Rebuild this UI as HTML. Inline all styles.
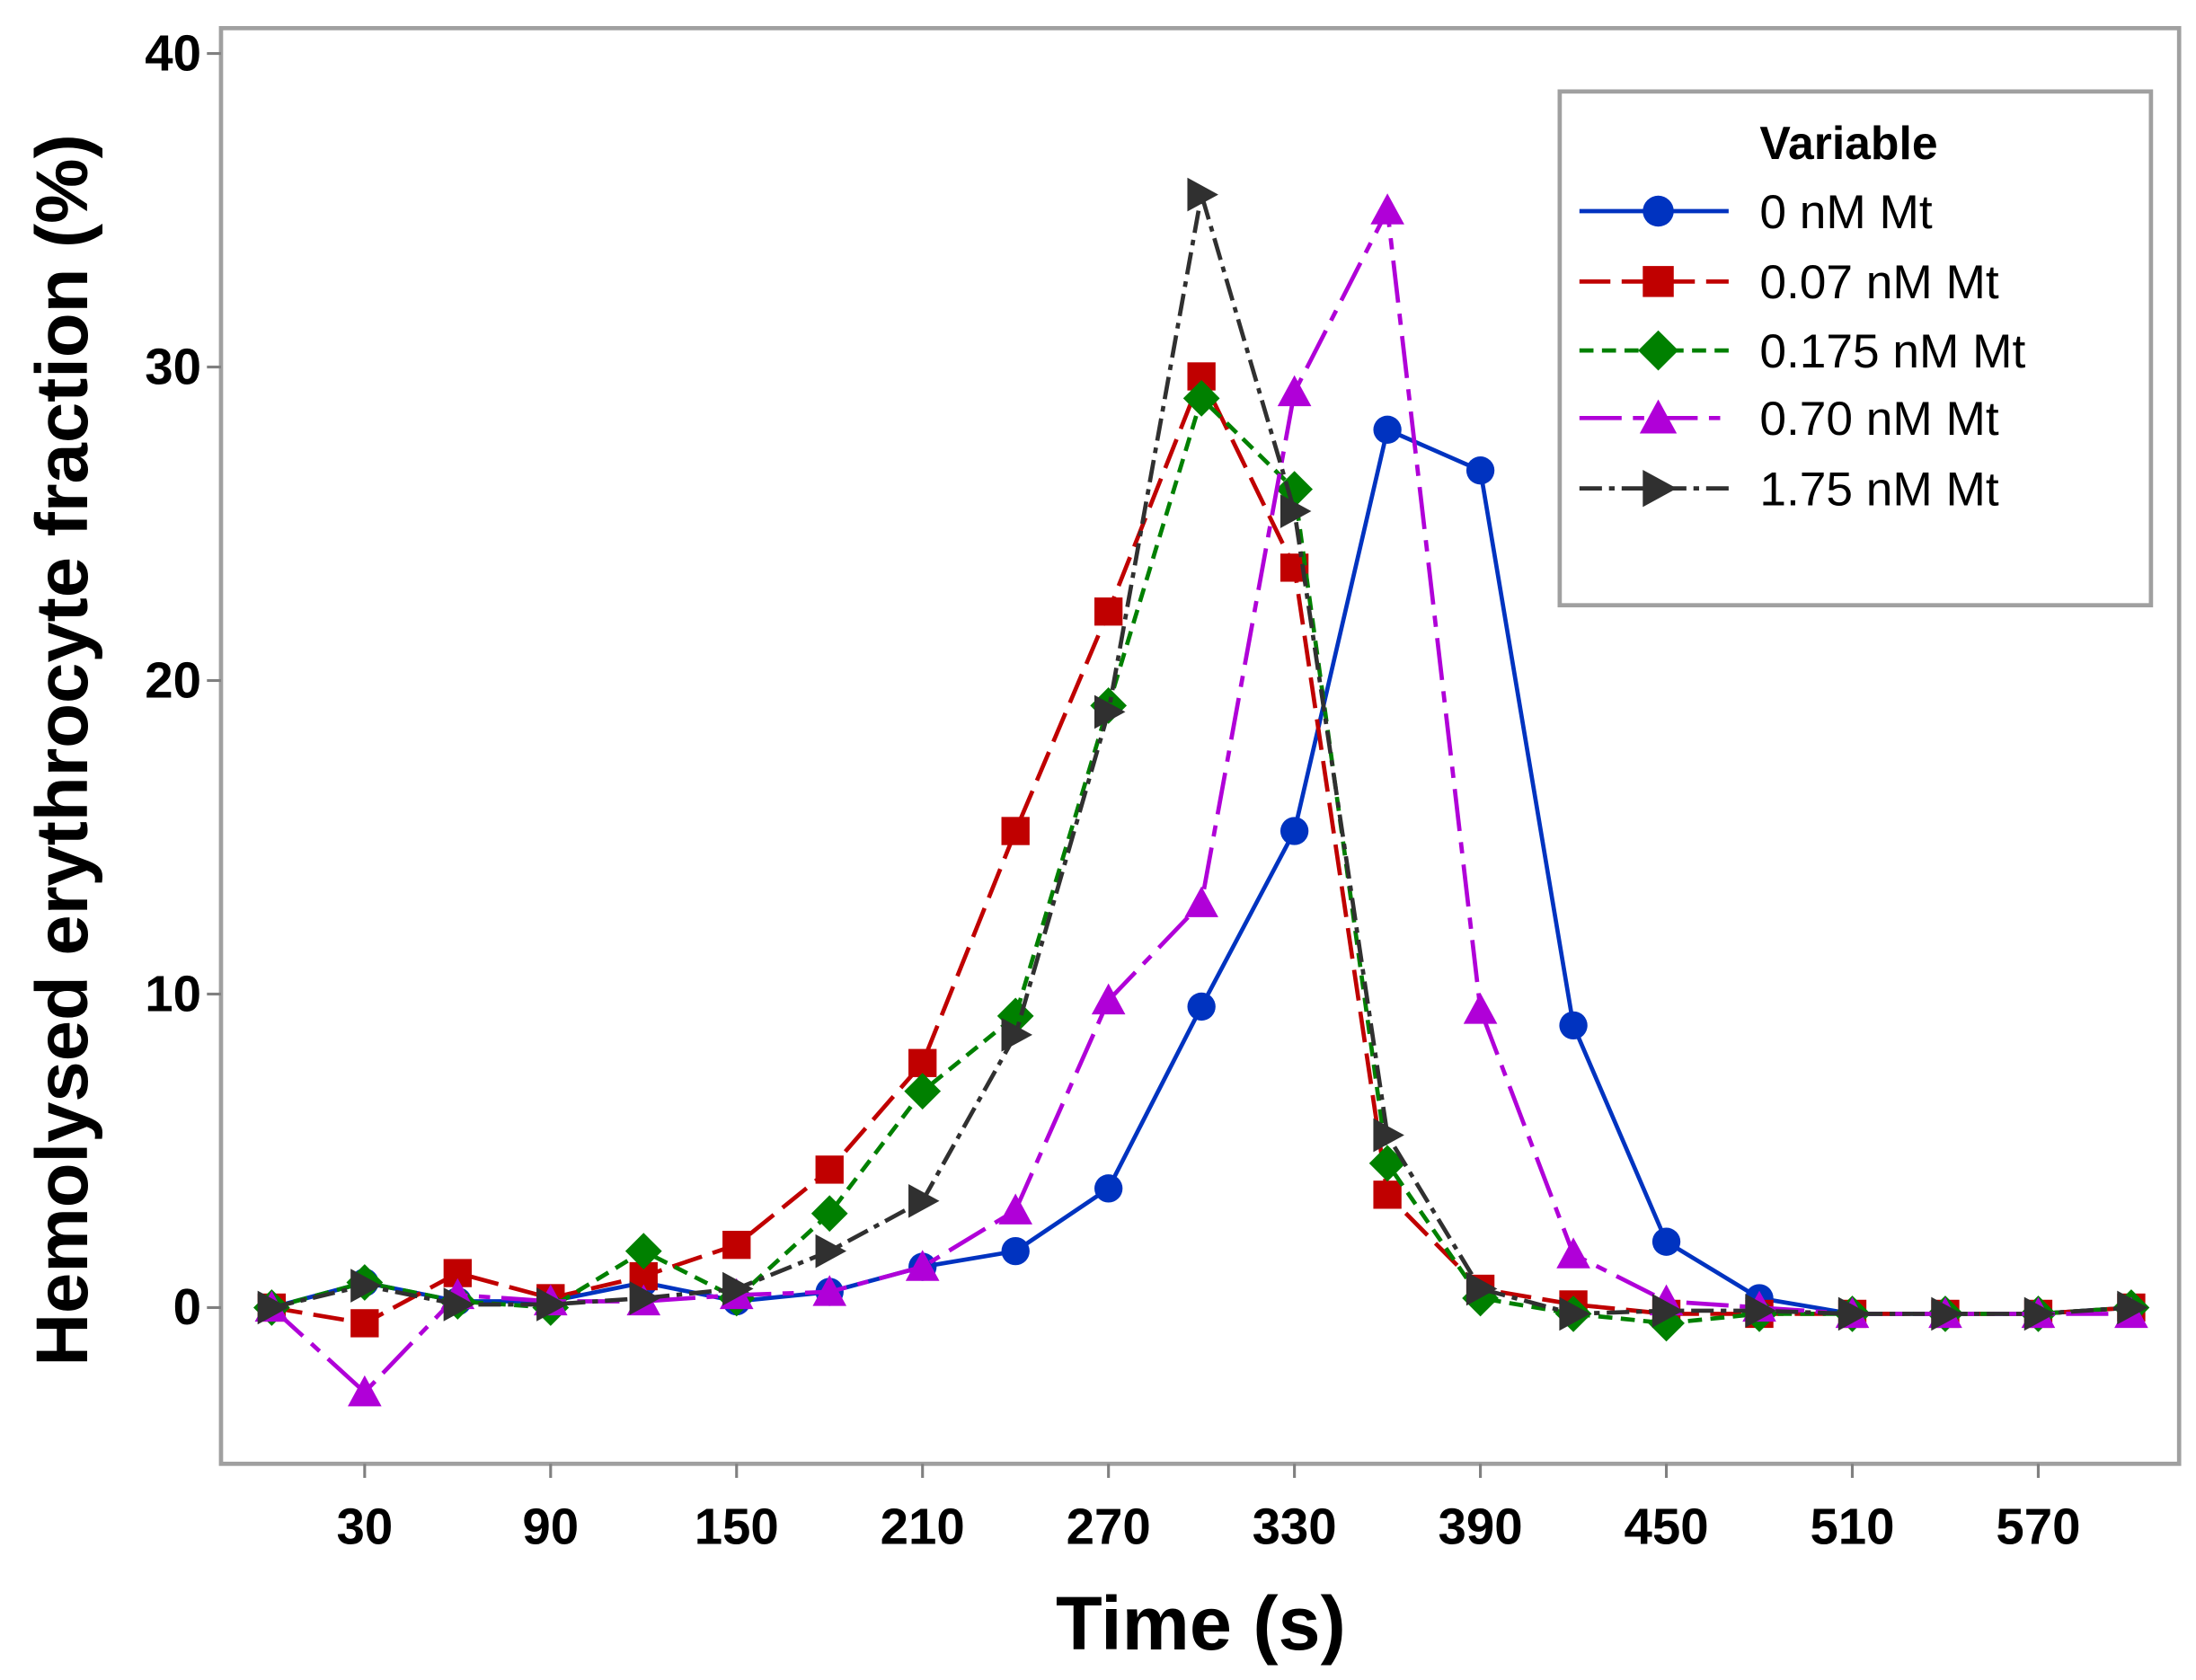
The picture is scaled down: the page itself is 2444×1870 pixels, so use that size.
<!DOCTYPE html>
<html><head><meta charset="utf-8"><style>
html,body{margin:0;padding:0;background:#fff;}
svg{display:block;}
text{font-family:"Liberation Sans",sans-serif;}
</style></head><body>
<svg id="chart" width="2444" height="1870" viewBox="0 0 1560 1193.6" preserveAspectRatio="none" xmlns="http://www.w3.org/2000/svg">
<rect x="0" y="0" width="1560" height="1194" fill="#fff"/>
<rect x="157" y="20" width="1391" height="1020" fill="none" stroke="#a0a0a0" stroke-width="3"/>
<g id="axes"></g>
<g id="series"></g>
<text transform="translate(62,533) rotate(-90)" text-anchor="middle" font-size="52" font-weight="bold">Hemolysed erythrocyte fraction (%)</text>
<text x="853" y="1172" text-anchor="middle" font-size="54" font-weight="bold">Time (s)</text>
<g>
<rect x="1108" y="65" width="420" height="365" fill="#fff" stroke="#a0a0a0" stroke-width="3"/>
<text x="1250" y="113" font-size="33" font-weight="bold">Variable</text>
<g id="legend-items"></g>
</g>
</svg>
<script>
const times = [0,30,60,90,120,150,180,210,240,270,300,330,360,390,420,450,480,510,540,570,600];
const s0 = [0,0.8,0.2,0.2,0.8,0.2,0.5,1.3,1.8,3.8,9.6,15.2,28,26.7,9,2.1,0.3,-0.2,-0.2,-0.2,0];
const s007 = [0,-0.5,1.1,0.3,1.0,2.0,4.4,7.8,15.2,22.2,29.7,23.6,3.6,0.6,0.1,-0.2,-0.2,-0.2,-0.2,-0.2,0];
const s0175 = [0,0.8,0.2,0,1.8,0.3,3.0,6.9,9.3,19.2,29,26.1,4.6,0.3,-0.2,-0.5,-0.2,-0.2,-0.2,-0.2,0];
const s070 = [0,-2.7,0.4,0.2,0.2,0.4,0.5,1.3,3.1,9.8,12.9,29.2,35,9.5,1.7,0.2,0,-0.2,-0.2,-0.2,-0.2];
const s175 = [0,0.7,0.1,0.1,0.3,0.6,1.8,3.4,8.7,19,35.5,25.4,5.5,0.6,-0.2,-0.1,-0.1,-0.2,-0.2,-0.2,0];
const seriesNames = ["0 nM Mt","0.07 nM Mt","0.175 nM Mt","0.70 nM Mt","1.75 nM Mt"];
const xTicks = [30,90,150,210,270,330,390,450,510,570];
const yTicks = [0,10,20,30,40];

const NS="http://www.w3.org/2000/svg";
const xs = t => 193 + t*(1514-193)/600;
const ys = v => 929 - v*(929-38)/40;
function mk(tag, attrs, parent){const e=document.createElementNS(NS,tag);for(const k in attrs)e.setAttribute(k,attrs[k]);parent.appendChild(e);return e;}

const axes=document.getElementById('axes');
xTicks.forEach(t=>{
  const l=mk('line',{x1:xs(t),x2:xs(t),y1:1040,y2:1050,stroke:'#808080','stroke-width':2},axes);
  
  
  const tx=mk('text',{x:xs(t),y:1097,'text-anchor':'middle','font-size':36,'font-weight':'bold'},axes);
  tx.textContent=t;
  
  
});
yTicks.forEach(v=>{
  const l=mk('line',{x1:147,x2:157,y1:ys(v),y2:ys(v),stroke:'#808080','stroke-width':2},axes);
  
  
  const tx=mk('text',{x:143,y:ys(v)+12,'text-anchor':'end','font-size':36,'font-weight':'bold'},axes);
  tx.textContent=v;
  
  
});

const styles=[
 {data:s0,color:'#0033c0',dash:'',marker:'circle'},
 {data:s007,color:'#c00000',dash:'22 8',marker:'square'},
 {data:s0175,color:'#008000',dash:'10 6',marker:'diamond'},
 {data:s070,color:'#b000d8',dash:'30 8 8 8',marker:'triangle'},
 {data:s175,color:'#303030',dash:'16 5 4 5',marker:'arrow'}
];
function marker(type,x,y,color,parent,r){
  r=r||10;
  let e;
  if(type==='circle') e=mk('circle',{cx:x,cy:y,r:r,fill:color},parent);
  else if(type==='square') e=mk('rect',{x:x-r,y:y-r,width:2*r,height:2*r,fill:color},parent);
  else if(type==='diamond') e=mk('polygon',{points:`${x},${y-r*1.3} ${x+r*1.3},${y} ${x},${y+r*1.3} ${x-r*1.3},${y}`,fill:color},parent);
  else if(type==='triangle') e=mk('polygon',{points:`${x},${y-r*1.2} ${x+r*1.2},${y+r} ${x-r*1.2},${y+r}`,fill:color},parent);
  else e=mk('polygon',{points:`${x-r},${y-r*1.2} ${x+r*1.2},${y} ${x-r},${y+r*1.2}`,fill:color},parent);
  return e;
}
const sg=document.getElementById('series');
styles.forEach((s,i)=>{
  const g=mk('g',{},sg);
  
  
  const pts=s.data.map((v,j)=>xs(times[j])+','+ys(v)).join(' ');
  const pl=mk('polyline',{points:pts,fill:'none',stroke:s.color,'stroke-width':3,'stroke-dasharray':s.dash},g);
  
  
  s.data.forEach((v,j)=>{
    const m=marker(s.marker,xs(times[j]),ys(v),s.color,g);
    
    
  });
});
const lg=document.getElementById('legend-items');
const ly=[150,200,249,297,347];
styles.forEach((s,i)=>{
  const g=mk('g',{},lg);
  
  
  mk('line',{x1:1122,x2:1228,y1:ly[i],y2:ly[i],stroke:s.color,'stroke-width':3,'stroke-dasharray':s.dash},g);
  marker(s.marker,1178,ly[i],s.color,g,11);
  const t=mk('text',{x:1250,y:ly[i]+12,'font-size':34},g);
  t.textContent=seriesNames[i];
});
</script>
</body></html>
